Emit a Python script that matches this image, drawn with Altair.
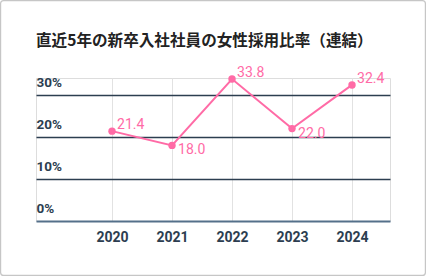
import altair as alt
import pandas as pd

years = [2020, 2021, 2022, 2023, 2024]
ratios = [21.4, 18.0, 33.8, 22.0, 32.4]
y_ticks = [0, 10, 20, 30]
title_text = "直近5年の新卒入社社員の女性採用比率（連結）"

df = pd.DataFrame({"year": years, "ratio": ratios})

PINK = "#ff6ba6"
NAVY = "#2c3e50"

W, H = 354, 143

x = alt.X(
    "year:Q",
    scale=alt.Scale(domain=[2018.733, 2024.633], nice=False, zero=False),
    axis=alt.Axis(
        values=years, format="d", title=None, grid=True, gridColor="#e2e2e2", gridWidth=1,
        ticks=False, tickSize=0, domain=True, domainColor="#55708a", domainWidth=2,
        labelFont="Roboto", labelFontSize=14, labelFontWeight="bold", labelColor=NAVY,
        labelPadding=9, labelBaseline="top",
    ),
)
y = alt.Y(
    "ratio:Q",
    scale=alt.Scale(domain=[0, 34.05], nice=False),
    axis=alt.Axis(
        values=y_ticks, title=None, grid=True,
        gridColor=alt.condition("datum.value == 0", alt.value("transparent"), alt.value(NAVY)),
        gridWidth=1.5, ticks=False, tickSize=0, domain=False,
        labelAlign="left", labelBaseline="bottom", labelPadding=0, labelOffset=-6,
        labelExpr="datum.value + '%'",
        labelFont="Roboto", labelFontSize=13.5, labelFontWeight="bold", labelColor=NAVY,
    ),
)

base = alt.Chart(df)

border = base.transform_filter("datum.year == 2020").mark_rect(
    fill=None, stroke="#c6c6c6", strokeWidth=1.2, cornerRadius=3
).encode(
    x=alt.value(-35.4), x2=alt.value(W + 35.4), y=alt.value(-77.4), y2=alt.value(H + 54.4)
)

line = base.mark_line(color=PINK, strokeWidth=2).encode(x=x, y=y)
points = base.mark_circle(color=PINK, size=55, opacity=1).encode(x=x, y=y)

labeled = base.transform_window(prev="lag(ratio)", sort=[alt.SortField("year")]).transform_calculate(
    below="datum.prev != null && datum.ratio < datum.prev"
)
labels_above = labeled.transform_filter("!datum.below").mark_text(
    color=PINK, font="Roboto", fontSize=14, align="left", baseline="middle", dx=5, dy=-6
).encode(x=x, y=y, text=alt.Text("ratio:Q", format=".1f"))
labels_below = labeled.transform_filter("datum.below").mark_text(
    color=PINK, font="Roboto", fontSize=14, align="left", baseline="middle", dx=6, dy=5
).encode(x=x, y=y, text=alt.Text("ratio:Q", format=".1f"))

chart = alt.layer(border, line, points, labels_above, labels_below).properties(
    width=W, height=H,
    title=alt.TitleParams(
        title_text, anchor="start", frame="group", font="Noto Sans CJK JP", fontSize=15.6,
        fontWeight="bold", color="#222222", offset=-64.5, baseline="bottom",
    ),
    autosize=alt.AutoSizeParams(type="none"),
    padding={"left": 36, "top": 78, "right": 36, "bottom": 55},
).configure_view(stroke=None).configure(background="white")

chart.save("out.html", embed_options={"renderer": "svg", "actions": False})
